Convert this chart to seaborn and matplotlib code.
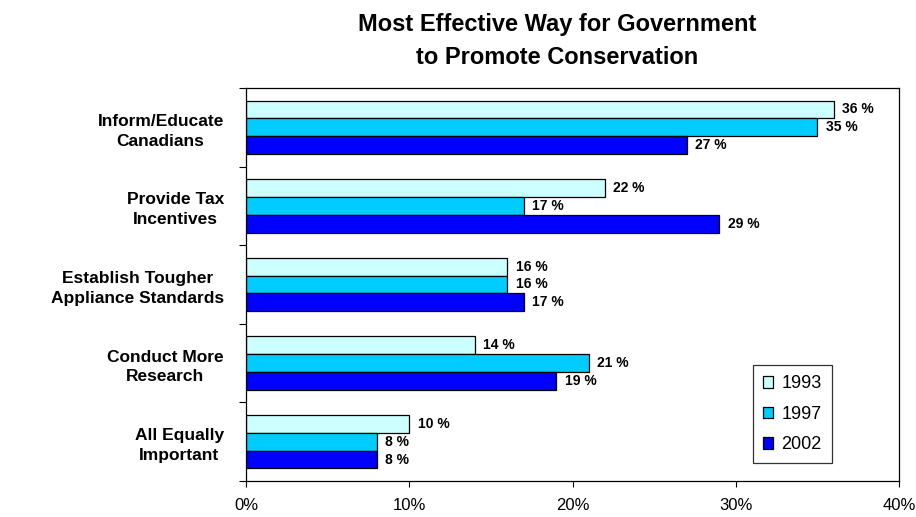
import matplotlib
matplotlib.use("Agg")
import matplotlib.pyplot as plt
import seaborn as sns
import pandas as pd
import numpy as np
from matplotlib.ticker import FixedLocator, PercentFormatter

# Survey responses: share of respondents choosing each option
ways = [
    "Inform/Educate\nCanadians",
    "Provide Tax\nIncentives",
    "Establish Tougher\nAppliance Standards",
    "Conduct More\nResearch",
    "All Equally\nImportant",
]
years = ["1993", "1997", "2002"]
pct_1993 = [36, 22, 16, 14, 10]
pct_1997 = [35, 17, 16, 21, 8]
pct_2002 = [27, 29, 17, 19, 8]
x_ticks = [0, 10, 20, 30, 40]

colors = {"1993": "#CCFFFF", "1997": "#00CCFF", "2002": "#0000FF"}

df = pd.DataFrame({
    "way": ways * 3,
    "year": [y for y in years for _ in ways],
    "pct": pct_1993 + pct_1997 + pct_2002,
})

sns.set_style("white")
plt.rcParams["font.family"] = ["Liberation Sans", "DejaVu Sans"]
plt.rcParams["text.color"] = "black"
plt.rcParams["xtick.color"] = "black"
plt.rcParams["ytick.color"] = "black"
plt.rcParams["axes.labelcolor"] = "black"

fig = plt.figure(figsize=(9.16, 5.17), dpi=100)
ax = fig.add_axes([246 / 916, 1 - 481 / 517, (899 - 246) / 916, (481 - 88) / 517])

sns.barplot(
    data=df, x="pct", y="way", hue="year", order=ways, hue_order=years,
    orient="h", palette=colors, saturation=1, width=0.68,
    edgecolor="black", linewidth=0.9, errorbar=None, ax=ax,
)

# value labels at the end of each bar
for cont in ax.containers:
    ax.bar_label(cont, fmt="{:.0f} %", padding=6, fontsize=10,
                 fontweight="bold", color="black")

ax.set_xlim(0, 40)
ax.set_ylim(len(ways) - 0.5, -0.5)
ax.set_xticks(x_ticks)
ax.xaxis.set_major_formatter(PercentFormatter(decimals=0))
ax.tick_params(axis="x", which="major", direction="out", length=4,
               width=0.8, color="black", labelsize=12, labelcolor="black",
               pad=8, bottom=True)

# category labels centred on groups; tick marks between groups
ax.set_yticks(range(len(ways)))
ax.set_yticklabels(ways, fontsize=12.5, fontweight="bold", color="black",
                   multialignment="center", linespacing=1.4)
ax.tick_params(axis="y", which="major", length=0, pad=16)
ax.yaxis.set_minor_locator(FixedLocator(np.arange(-0.5, len(ways), 1.0)))
ax.tick_params(axis="y", which="minor", direction="out", length=5,
               width=0.8, color="black", left=True)

ax.set_xlabel("")
ax.set_ylabel("")
for side in ["left", "bottom", "right", "top"]:
    ax.spines[side].set_visible(True)
    ax.spines[side].set_color("black")
    ax.spines[side].set_linewidth(0.9)

# legend
handles, labels = ax.get_legend_handles_labels()
for h in handles:
    h.set_edgecolor("black")
    h.set_linewidth(0.9)
leg = ax.legend(
    handles, labels, loc="lower right", bbox_to_anchor=(0.897, 0.045),
    frameon=True, fancybox=False, edgecolor="black", fontsize=13,
    handlelength=0.6, handleheight=0.6, handletextpad=0.45,
    labelspacing=0.75, borderpad=0.55, borderaxespad=0,
)
leg.get_frame().set_linewidth(0.9)

fig.text(557 / 916, 1 - 13 / 517,
         "Most Effective Way for Government\nto Promote Conservation",
         ha="center", va="top", fontsize=17, fontweight="bold",
         color="black", linespacing=1.55)

fig.savefig("out.png", dpi=100, facecolor="white")
